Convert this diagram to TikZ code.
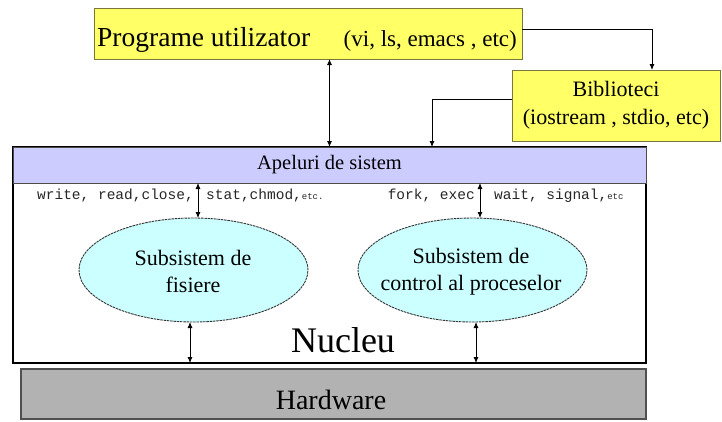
\documentclass[tikz,border=0pt]{standalone}
\usepackage{fontspec}
\setmainfont{Liberation Serif}
\setmonofont{Liberation Mono}
\usetikzlibrary{arrows.meta,shapes.geometric}
\definecolor{yel}{RGB}{255,255,102}
\definecolor{yelborder}{RGB}{120,120,60}
\definecolor{lav}{RGB}{204,204,255}
\definecolor{cyanl}{RGB}{204,255,255}
\definecolor{hwgray}{RGB}{178,178,178}
\definecolor{hwborder}{RGB}{80,80,80}
\newcommand{\fsz}[2]{\fontsize{#1}{#2}\selectfont}
\begin{document}
\begin{tikzpicture}[x=1pt,y=-1pt,
  ybox/.style={draw=yelborder, fill=yel, line width=1pt, inner sep=0pt, outer sep=0pt},
  kbox/.style={draw=black, line width=1.5pt, inner sep=0pt, outer sep=0pt},
  band/.style={draw=black!70, fill=lav, line width=1pt, inner sep=0pt, outer sep=0pt},
  hwbox/.style={draw=hwborder, fill=hwgray, line width=1.5pt, inner sep=0pt, outer sep=0pt},
  ell/.style={ellipse, draw=black!80, fill=cyanl, dash pattern=on 2.5pt off 0.8pt, line width=0.9pt,
              inner sep=0pt, outer sep=0pt, minimum width=229pt, minimum height=104pt},
  elltext/.style={inner sep=0pt, align=center, font=\fsz{22}{27}},
  mono/.style={font=\ttfamily\fsz{14.5}{16}, text=black!85, inner sep=0pt},
  lbl/.style={inner sep=0pt},
  arr/.style={-{Latex[length=6pt,width=5pt]}, line width=0.8pt},
  darr/.style={{Latex[length=6pt,width=5pt]}-{Latex[length=6pt,width=5pt]}, line width=0.8pt}
]
\useasboundingbox (0,0) rectangle (722,421);

% top boxes
\node[ybox, minimum width=428pt, minimum height=51pt] (prog) at (308,33.5) {};
\node[lbl, anchor=base west, font=\fsz{27.5}{30}] (progt) at (97,46) {Programe utilizator};
\node[lbl, anchor=base east, font=\fsz{23}{26}] (progp) at (517,46) {(vi, ls, emacs , etc)};

\node[ybox, minimum width=208pt, minimum height=71pt, align=center, font=\fsz{22}{28}] (bib) at (616,105.5)
  {Biblioteci\\(iostream , stdio, etc)};

% kernel
\node[kbox, minimum width=633pt, minimum height=216pt] (nuc) at (329.5,255) {};
\node[band, minimum width=633pt, minimum height=36pt, font=\fsz{20.5}{24}] (apel) at (329.5,165) {Apeluri de sistem};
\node[lbl, font=\fsz{36}{40}] (nuct) at (343,340) {Nucleu};

\node[ell] (e1) at (193.5,270) {};
\node[elltext] (e1t) at (193,271.5) {Subsistem de\\fisiere};
\node[ell] (e2) at (472.5,270) {};
\node[elltext] (e2t) at (471,271.5) {Subsistem de\\control al proceselor};

\node[mono, anchor=base east] (m1) at (194,199) {write, read,close,};
\node[mono, anchor=base west] (m2) at (206,199) {stat,chmod,{\fsz{9}{10}etc.}};
\node[mono, anchor=base east] (m3) at (475,199) {fork, exec};
\node[mono, anchor=base west] (m4) at (494,199) {wait, signal,{\fsz{9}{10}etc}};

% hardware
\node[hwbox, minimum width=625pt, minimum height=50pt] (hw) at (333.5,394) {};
\node[lbl, font=\fsz{28}{30}] (hwt) at (331,400) {Hardware};

% connectors
\coordinate (c1) at (652,29);
\coordinate (c2) at (432,99);
\draw[arr] (prog.east |- c1) -| (bib.north -| c1);
\draw[arr] (bib.west |- c2) -| (apel.north -| c2);
\draw[darr] (prog.south -| apel.north) -- (apel.north);
\draw[darr] (apel.south -| 198,0) -- (e1.north -| 198,0);
\draw[darr] (apel.south -| 480,0) -- (e2.north -| 480,0);
\draw[darr] (e1.south -| 190,0) -- (nuc.south -| 190,0);
\draw[darr] (e2.south -| 476,0) -- (nuc.south -| 476,0);
\end{tikzpicture}
\end{document}
